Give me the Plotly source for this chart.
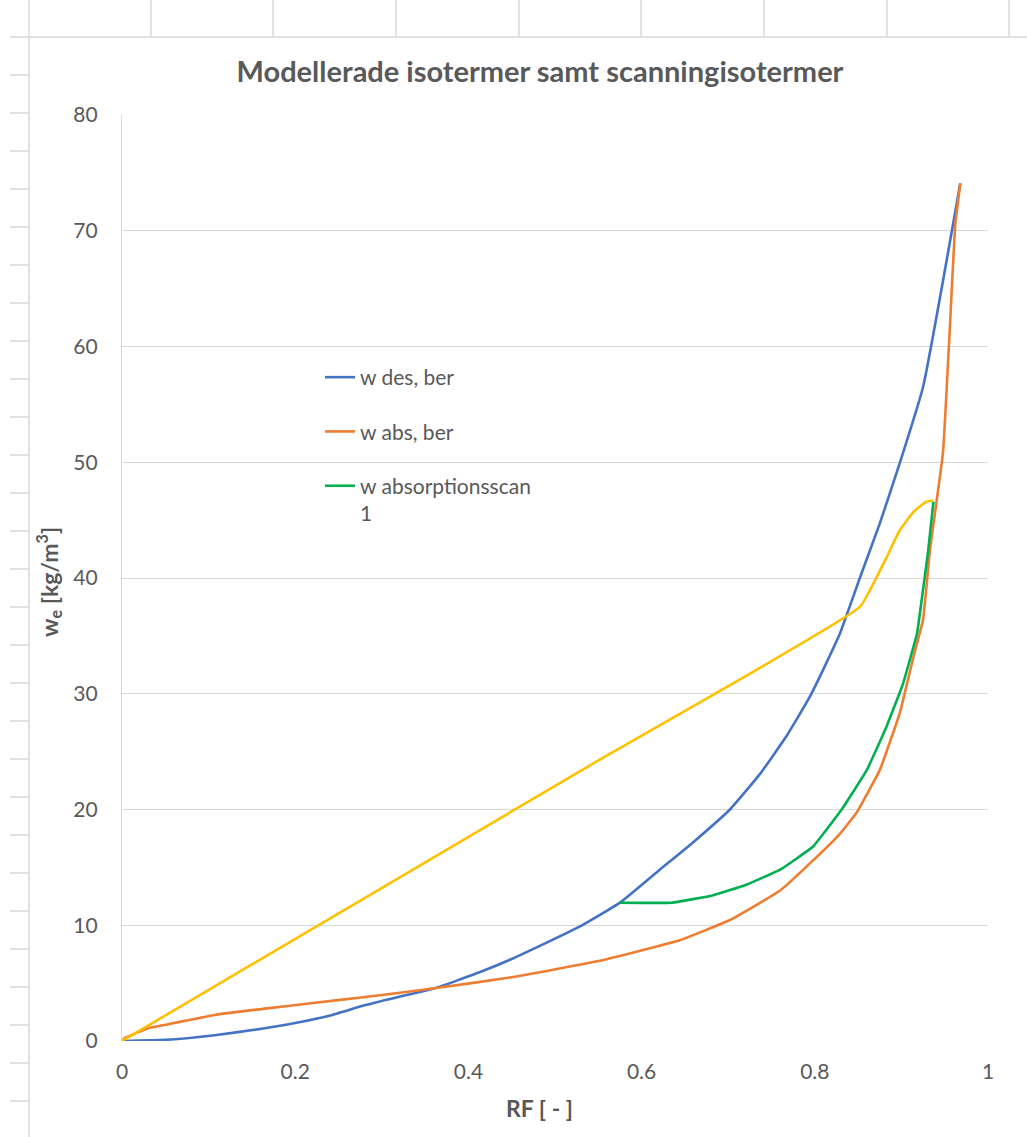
import plotly.graph_objects as go

# ---- data ----
rf_des = [0, 0.05, 0.107, 0.165, 0.2, 0.243, 0.281, 0.319, 0.361, 0.415, 0.452, 0.529, 0.575,
          0.621, 0.66, 0.702, 0.737, 0.767, 0.794, 0.813, 0.829, 0.852, 0.875, 0.898, 0.925, 0.968]
w_des = [0, 0.1, 0.5, 1.1, 1.55, 2.25, 3.1, 3.8, 4.55, 6.0, 7.15, 9.9, 11.95,
         14.8, 17.2, 20.0, 23.1, 26.3, 29.7, 32.6, 35.2, 40.0, 44.7, 49.9, 56.5, 74.1]

rf_abs = [0, 0.003, 0.03, 0.05, 0.107, 0.165, 0.223, 0.281, 0.361, 0.454, 0.556, 0.644, 0.702,
          0.76, 0.798, 0.829, 0.848, 0.875, 0.898, 0.914, 0.925, 0.933, 0.948, 0.956, 0.962, 0.968]
w_abs = [0, 0.25, 1.1, 1.4, 2.25, 2.8, 3.3, 3.8, 4.55, 5.55, 7.0, 8.7, 10.45,
         13.0, 15.6, 17.9, 19.7, 23.4, 28.3, 33.2, 36.4, 42.4, 50.8, 61.7, 70.4, 74.1]

rf_scan = [0.575, 0.635, 0.683, 0.721, 0.76, 0.798, 0.831, 0.86, 0.883, 0.902, 0.918, 0.925, 0.931, 0.937]
w_scan = [11.95, 11.95, 12.6, 13.5, 14.8, 16.8, 20.0, 23.4, 27.2, 30.9, 35.2, 39.0, 42.4, 46.6]

rf_yel = [0, 0.54, 0.852, 0.864, 0.883, 0.898, 0.914, 0.929, 0.937]
w_yel = [0, 23.8, 37.5, 39.0, 41.8, 44.1, 45.7, 46.6, 46.7]

names = ["w des, ber", "w abs, ber", "w absorptionsscan<br>1"]
colors = ["#4472C4", "#ED7D31", "#00B050", "#FFC000"]

# ---- geometry ----
W, H = 1027, 1137
ML, MR, MT, MB = 122, 39, 115, 96
PW, PH = W - ML - MR, H - MT - MB


def px(x):
    return (x - ML) / PW


def py(y):
    return (H - MB - y) / PH


GREY = "#595959"
FONT = "Lato"

fig = go.Figure()
fig.add_trace(go.Scatter(x=rf_des, y=w_des, mode="lines", name=names[0], legendgroup="a",
                         line=dict(color=colors[0], width=2.6, shape="spline", smoothing=0.4),
                         cliponaxis=False))
fig.add_trace(go.Scatter(x=rf_abs, y=w_abs, mode="lines", name=names[1], legendgroup="b",
                         line=dict(color=colors[1], width=2.6, shape="spline", smoothing=0.3),
                         cliponaxis=False))
fig.add_trace(go.Scatter(x=rf_scan, y=w_scan, mode="lines", name=names[2], legendgroup="c",
                         line=dict(color=colors[2], width=2.6, shape="spline", smoothing=0.3),
                         cliponaxis=False))
fig.add_trace(go.Scatter(x=rf_yel, y=w_yel, mode="lines", showlegend=False,
                         line=dict(color=colors[3], width=2.6, shape="spline", smoothing=0.5),
                         cliponaxis=False))

# ---- spreadsheet background lines ----
SHEET = "#D9D9D9"
shapes = []
shapes.append(dict(type="line", xref="paper", yref="paper", x0=px(29), x1=px(29), y0=py(0), y1=py(H),
                   line=dict(color=SHEET, width=1.5)))
shapes.append(dict(type="line", xref="paper", yref="paper", x0=px(10), x1=px(W), y0=py(37), y1=py(37),
                   line=dict(color=SHEET, width=1.5)))
for cx in [151, 273, 396, 519, 641, 764, 887, 1009]:
    shapes.append(dict(type="line", xref="paper", yref="paper", x0=px(cx), x1=px(cx), y0=py(0), y1=py(37),
                       line=dict(color=SHEET, width=1.5)))
ry = 75
while ry < H:
    shapes.append(dict(type="line", xref="paper", yref="paper", x0=px(10), x1=px(29), y0=py(ry), y1=py(ry),
                       line=dict(color=SHEET, width=1.5)))
    ry += 38

annotations = [
    dict(text="w<sub>e</sub> [kg/m<sup>3</sup>]", xref="paper", yref="paper", x=px(48), y=py(582),
         xanchor="center", yanchor="middle", textangle=-90, showarrow=False,
         font=dict(family=FONT, size=23, color=GREY, weight="bold")),
    dict(text="RF [ - ]", xref="paper", yref="paper", x=px(539), y=py(1108),
         xanchor="center", yanchor="middle", showarrow=False,
         font=dict(family=FONT, size=23, color=GREY, weight="bold")),
]

fig.update_layout(
    width=W, height=H, autosize=False,
    margin=dict(l=ML, r=MR, t=MT, b=MB, pad=0),
    paper_bgcolor="white", plot_bgcolor="white",
    title=dict(text="<b>Modellerade isotermer samt scanningisotermer</b>", xref="container", yref="container",
               x=540 / W, y=1 - 72 / H, xanchor="center", yanchor="middle",
               font=dict(family=FONT, size=29, color=GREY)),
    font=dict(family=FONT, color=GREY, size=21),
    xaxis=dict(range=[0, 1], tick0=0, dtick=0.2, showgrid=False, zeroline=False,
               showline=False, ticks="", ticklabelstandoff=16,
               tickfont=dict(family=FONT, size=21, color=GREY)),
    yaxis=dict(range=[0, 80], tick0=0, dtick=10, showgrid=True, gridcolor="#D9D9D9", gridwidth=1.3,
               zeroline=False, showline=True, linecolor="#D9D9D9", linewidth=1.3, ticks="",
               ticklabelstandoff=19, tickfont=dict(family=FONT, size=21, color=GREY)),
    legend=dict(x=px(320), y=py(357), xanchor="left", yanchor="top", bgcolor="rgba(0,0,0,0)",
                font=dict(family=FONT, size=21, color=GREY), tracegroupgap=24, valign="top",
                traceorder="grouped"),
    shapes=shapes,
    annotations=annotations,
    showlegend=True,
)

fig.write_html("out.html")
